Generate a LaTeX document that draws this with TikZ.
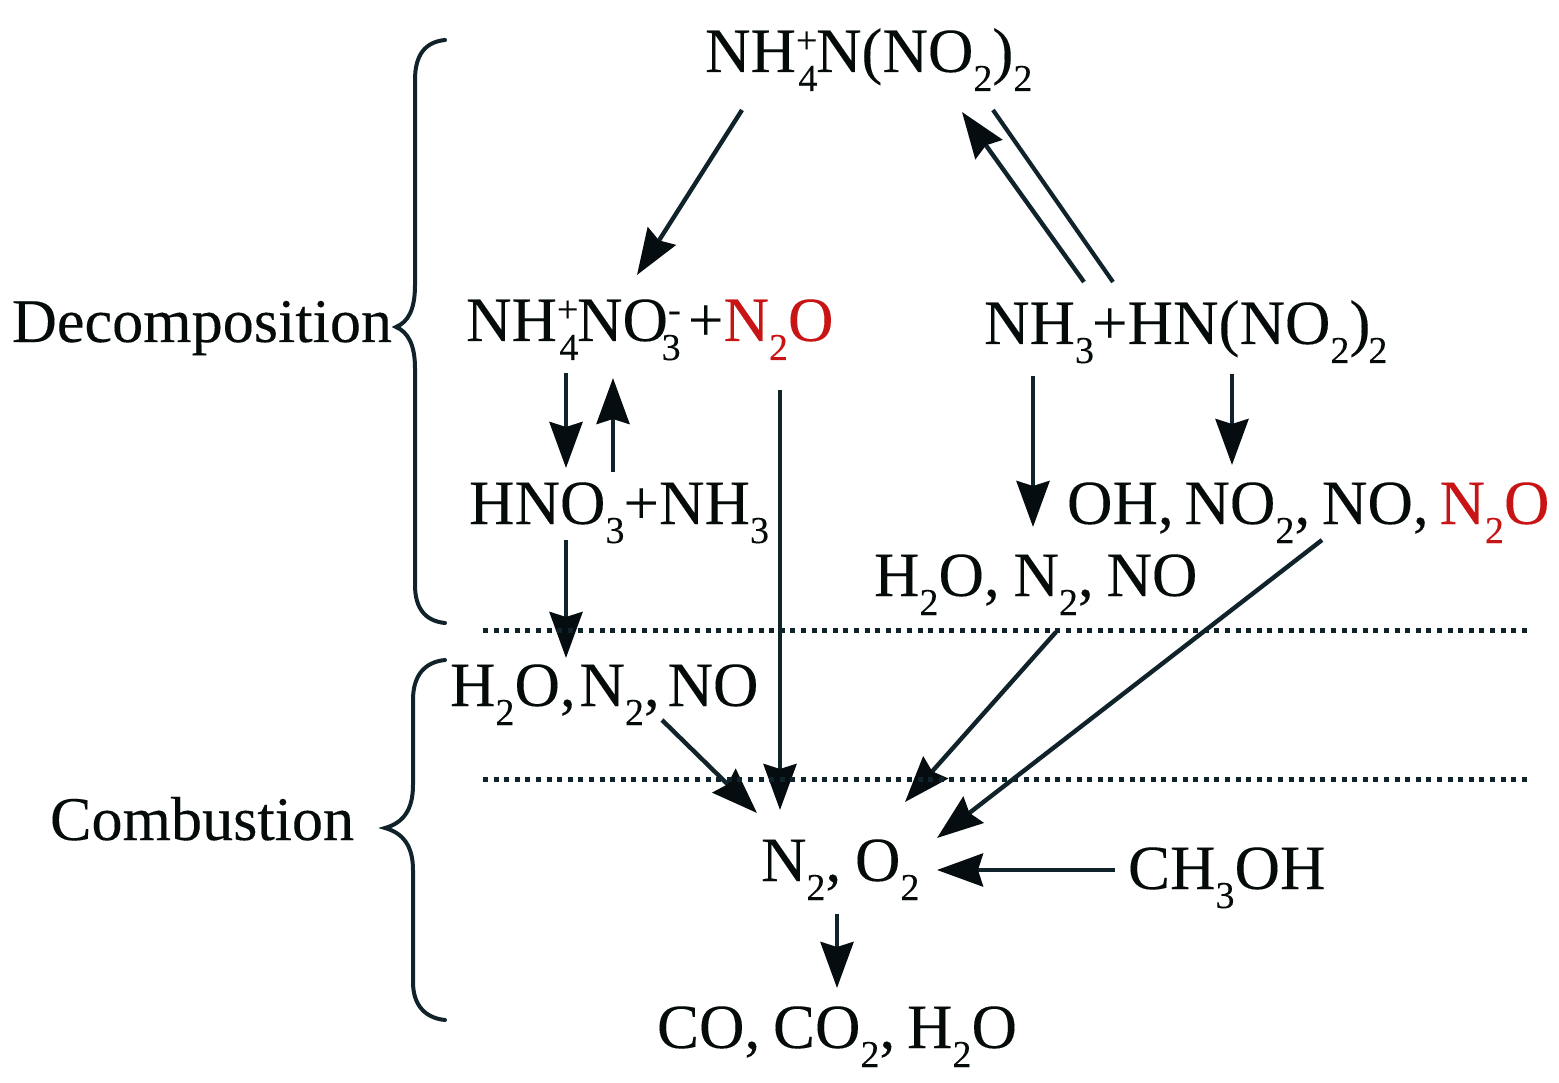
\documentclass[tikz,border=0pt]{standalone}
\usepackage{fontspec}
\setmainfont{Liberation Serif}[FakeBold=0.15]
\usetikzlibrary{arrows.meta}
\definecolor{ink}{HTML}{050A0A}
\definecolor{linec}{HTML}{10232A}
\definecolor{headc}{HTML}{050D10}
\definecolor{redc}{HTML}{C81414}
\newcommand{\smallf}{\fontsize{38}{38}\selectfont}
\newcommand{\dn}[1]{\raisebox{-19pt}{\smallf #1}}
\newcommand{\both}[2]{\makebox[20pt][l]{\raisebox{19pt}{\smallf #1}\hspace{-19pt}\raisebox{-19pt}{\smallf #2}}}
\tikzset{
  lab/.style={anchor=base west,inner sep=0pt,outer sep=0pt,text=ink,font=\fontsize{63}{70}\selectfont},
  side/.style={lab,font=\fontsize{62.2}{70}\selectfont},
  arr/.style={draw=linec,line width=4.4pt,-{Stealth[length=46pt,width=33pt,inset=5pt,color=headc]}},
  plain/.style={draw=linec,line width=4.2pt},
  sep/.style={draw=linec,line width=5pt,dash pattern=on 5pt off 5.6pt},
  brace/.style={draw=linec,line width=4pt,line cap=round}
}
\begin{document}
\begin{tikzpicture}[x=1pt,y=-1pt]
\useasboundingbox (0,0) rectangle (1559,1083);
% labels (base west at given pixel position)
\node[lab] (top) at (705,72) {NH\both{+}{4}N(NO\dn{2})\dn{2}};
\node[lab] (nitrate) at (466,341) {NH\both{+}{4}NO\both{-}{3}+\textcolor{redc}{N\dn{2}O}};
\node[lab] (acid) at (984,344) {NH\dn{3}\hspace{-2pt}+HN(NO\dn{2})\hspace{-2pt}\dn{2}};
\node[lab] (hno) at (469,524) {HNO\dn{3}\hspace{-1pt}+NH\dn{3}};
\node[lab] (oh) at (1067,524) {OH,\hspace{-5pt} NO\dn{2},\hspace{-4pt} NO,\hspace{-5pt} \textcolor{redc}{N\dn{2}O}};
\node[lab] (waterr) at (874,596) {H\dn{2}O,\hspace{-2pt} N\dn{2},\hspace{-3pt} NO};
\node[lab] (waterl) at (450,706) {H\dn{2}O,\hspace{-12pt} N\dn{2},\hspace{-8pt} NO};
\node[lab] (ntwo) at (761,881) {N\dn{2},\hspace{-2pt} O\dn{2}};
\node[lab] (meth) at (1128,889) {CH\dn{3}OH};
\node[lab] (prod) at (657,1048) {CO,\hspace{-3pt} CO\dn{2},\hspace{-4pt} H\dn{2}O};
\node[side] (dec) at (12,342) {Decomposition};
\node[side] (comb) at (50,840) {Combustion};
% connectors
\draw[arr] ([shift={(37,38)}]top.base west) -- ([shift={(171,-66)}]nitrate.base west);
\draw[arr] ([shift={(100,-62)}]acid.base west) -- ([shift={(257,40)}]top.base west);
\draw[plain] ([shift={(129,-62)}]acid.base west) -- ([shift={(288,38)}]top.base west);
\draw[arr] ([shift={(100,32)}]nitrate.base west) -- ([shift={(97,-56)}]hno.base west);
\draw[arr] ([shift={(144,-52)}]hno.base west) -- ([shift={(147,37)}]nitrate.base west);
\draw[arr] ([shift={(314,49)}]nitrate.base west) -- ([shift={(19,-71)}]ntwo.base west);
\draw[arr] ([shift={(49,32)}]acid.base west) -- ([shift={(159,-69)}]waterr.base west);
\draw[arr] ([shift={(248,30)}]acid.base west) -- ([shift={(165,-59)}]oh.base west);
\draw[arr] ([shift={(97,16)}]hno.base west) -- ([shift={(116,-48)}]waterl.base west);
\draw[arr] ([shift={(212,14)}]waterl.base west) -- ([shift={(-4,-68)}]ntwo.base west);
\draw[arr] ([shift={(182,36)}]waterr.base west) -- ([shift={(144,-79)}]ntwo.base west);
\draw[arr] ([shift={(255,16)}]oh.base west) -- ([shift={(176,-43)}]ntwo.base west);
\draw[arr] ([shift={(-13,-19)}]meth.base west) -- ([shift={(176,-11)}]ntwo.base west);
\draw[arr] ([shift={(76,33)}]ntwo.base west) -- ([shift={(180,-60)}]prod.base west);
% separators
\coordinate (s1a) at (483,630); \coordinate (s1b) at (1530,630);
\coordinate (s2a) at (483,779); \coordinate (s2b) at (1530,779);
\draw[sep] (s1a) -- (s1b);
\draw[sep] (s2a) -- (s2b);
% braces
\draw[brace] (445,40) .. controls (425,42) and (415,55) .. (415,80) -- (415,285)
  .. controls (415,310) and (408,322) .. (396,327)
  .. controls (408,332) and (415,345) .. (415,368) -- (415,585)
  .. controls (415,608) and (425,621) .. (445,623);
\draw[brace] (445,660) .. controls (425,662) and (413,675) .. (413,700) -- (413,785)
  .. controls (413,810) and (403,823) .. (385,828)
  .. controls (403,833) and (413,846) .. (413,870) -- (413,982)
  .. controls (413,1005) and (425,1018) .. (445,1020);
\end{tikzpicture}
\end{document}
